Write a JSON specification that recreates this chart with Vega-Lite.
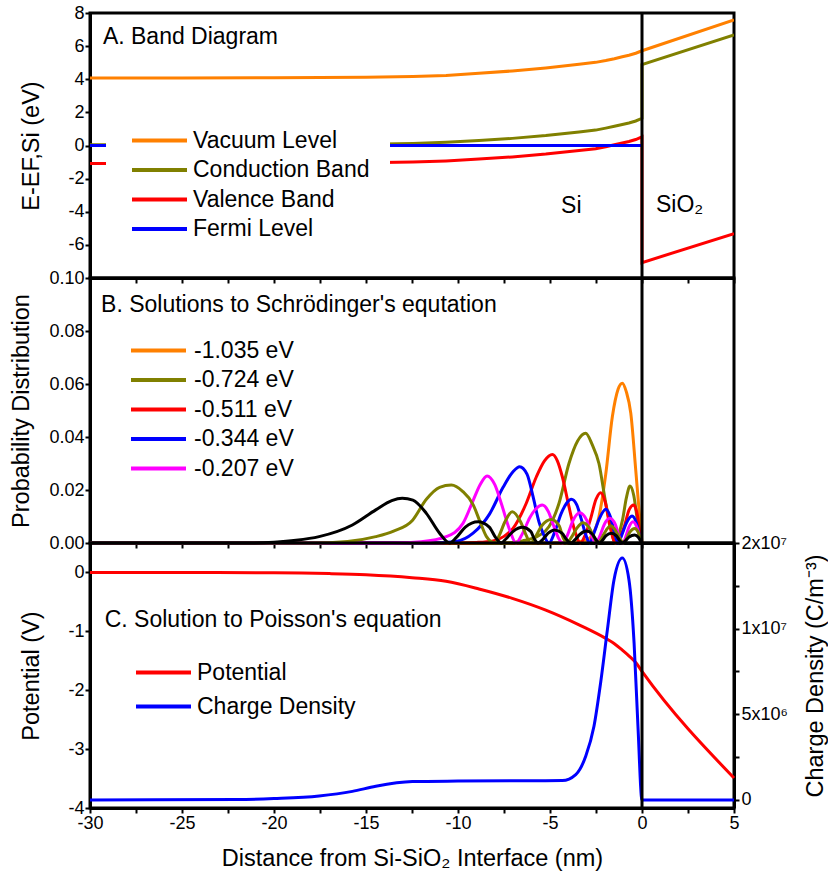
{
  "$schema": "https://vega.github.io/schema/vega-lite/v6.json",
  "background": "white",
  "padding": {"left": 7, "top": 2, "right": 0, "bottom": 0},
  "spacing": 0,
  "bounds": "flush",
  "resolve": {"scale": {"color": "independent"}, "legend": {"color": "independent"}},
  "config": {
    "font": "Liberation Sans",
    "view": {"stroke": "black", "strokeWidth": 3},
    "axis": {
      "domainColor": "black", "domainWidth": 3, "tickColor": "black", "tickWidth": 2, "tickSize": 5,
      "labelFontSize": 18, "labelColor": "black", "labelPadding": 1, "labelFlush": false, "labelOverlap": false, "labelBound": false,
      "titleFontSize": 23.5, "titleFontWeight": "normal", "titleColor": "black", "grid": false
    },
    "legend": {
      "labelFontSize": 23, "labelColor": "black", "symbolType": "M-1,0H9", "symbolSize": 121, "labelLimit": 400,
      "symbolStrokeWidth": 4, "labelOffset": 44, "orient": "none"
    }
  },
  "datasets": {
    "band": [
      {"x": -30, "E": 4.08, "series": "Vacuum Level", "o": 1},
      {"x": -25, "E": 4.08, "series": "Vacuum Level", "o": 2},
      {"x": -20, "E": 4.09, "series": "Vacuum Level", "o": 3},
      {"x": -17.5, "E": 4.1, "series": "Vacuum Level", "o": 4},
      {"x": -15, "E": 4.12, "series": "Vacuum Level", "o": 5},
      {"x": -12.45, "E": 4.16, "series": "Vacuum Level", "o": 6},
      {"x": -10.65, "E": 4.23, "series": "Vacuum Level", "o": 7},
      {"x": -8.86, "E": 4.36, "series": "Vacuum Level", "o": 8},
      {"x": -7.05, "E": 4.5, "series": "Vacuum Level", "o": 9},
      {"x": -5.23, "E": 4.68, "series": "Vacuum Level", "o": 10},
      {"x": -3.42, "E": 4.9, "series": "Vacuum Level", "o": 11},
      {"x": -2.52, "E": 5.02, "series": "Vacuum Level", "o": 12},
      {"x": -1.97, "E": 5.13, "series": "Vacuum Level", "o": 13},
      {"x": -1.5, "E": 5.24, "series": "Vacuum Level", "o": 14},
      {"x": -1.07, "E": 5.36, "series": "Vacuum Level", "o": 15},
      {"x": -0.71, "E": 5.45, "series": "Vacuum Level", "o": 16},
      {"x": -0.34, "E": 5.57, "series": "Vacuum Level", "o": 17},
      {"x": 0, "E": 5.72, "series": "Vacuum Level", "o": 18},
      {"x": 5, "E": 7.58, "series": "Vacuum Level", "o": 19},
      {"x": -30, "E": 0.04, "series": "Conduction Band", "o": 1},
      {"x": -25, "E": 0.04, "series": "Conduction Band", "o": 2},
      {"x": -20, "E": 0.05, "series": "Conduction Band", "o": 3},
      {"x": -17.5, "E": 0.06, "series": "Conduction Band", "o": 4},
      {"x": -15, "E": 0.08, "series": "Conduction Band", "o": 5},
      {"x": -12.45, "E": 0.12, "series": "Conduction Band", "o": 6},
      {"x": -10.65, "E": 0.19, "series": "Conduction Band", "o": 7},
      {"x": -8.86, "E": 0.3, "series": "Conduction Band", "o": 8},
      {"x": -7.05, "E": 0.43, "series": "Conduction Band", "o": 9},
      {"x": -5.23, "E": 0.6, "series": "Conduction Band", "o": 10},
      {"x": -3.42, "E": 0.82, "series": "Conduction Band", "o": 11},
      {"x": -2.52, "E": 0.93, "series": "Conduction Band", "o": 12},
      {"x": -1.97, "E": 1.05, "series": "Conduction Band", "o": 13},
      {"x": -1.5, "E": 1.16, "series": "Conduction Band", "o": 14},
      {"x": -1.07, "E": 1.27, "series": "Conduction Band", "o": 15},
      {"x": -0.71, "E": 1.36, "series": "Conduction Band", "o": 16},
      {"x": -0.34, "E": 1.48, "series": "Conduction Band", "o": 17},
      {"x": 0, "E": 1.64, "series": "Conduction Band", "o": 18},
      {"x": 0, "E": 4.89, "series": "Conduction Band", "o": 19},
      {"x": 5, "E": 6.67, "series": "Conduction Band", "o": 20},
      {"x": -30, "E": -1.08, "series": "Valence Band", "o": 1},
      {"x": -25, "E": -1.08, "series": "Valence Band", "o": 2},
      {"x": -20, "E": -1.07, "series": "Valence Band", "o": 3},
      {"x": -17.5, "E": -1.06, "series": "Valence Band", "o": 4},
      {"x": -15, "E": -1.04, "series": "Valence Band", "o": 5},
      {"x": -12.45, "E": -1.0, "series": "Valence Band", "o": 6},
      {"x": -10.65, "E": -0.93, "series": "Valence Band", "o": 7},
      {"x": -8.86, "E": -0.82, "series": "Valence Band", "o": 8},
      {"x": -7.05, "E": -0.69, "series": "Valence Band", "o": 9},
      {"x": -5.23, "E": -0.52, "series": "Valence Band", "o": 10},
      {"x": -3.42, "E": -0.3, "series": "Valence Band", "o": 11},
      {"x": -2.52, "E": -0.19, "series": "Valence Band", "o": 12},
      {"x": -1.97, "E": -0.07, "series": "Valence Band", "o": 13},
      {"x": -1.5, "E": 0.04, "series": "Valence Band", "o": 14},
      {"x": -1.07, "E": 0.15, "series": "Valence Band", "o": 15},
      {"x": -0.71, "E": 0.24, "series": "Valence Band", "o": 16},
      {"x": -0.34, "E": 0.36, "series": "Valence Band", "o": 17},
      {"x": 0, "E": 0.52, "series": "Valence Band", "o": 18},
      {"x": 0, "E": -7.07, "series": "Valence Band", "o": 19},
      {"x": 5, "E": -5.32, "series": "Valence Band", "o": 20},
      {"x": -30, "E": 0, "series": "Fermi Level", "o": 1},
      {"x": 0, "E": 0, "series": "Fermi Level", "o": 2}
    ],
    "textA": [
      {"x": -29.3, "E": 6.55, "t": "A. Band Diagram"},
      {"x": -4.4, "E": -3.64, "t": "Si"},
      {"x": 0.76, "E": -3.62, "t": "SiO₂"}
    ],
    "psi": [
      {"x": -30, "p": 0, "s": "-1.035 eV"}, {"x": -4.5, "p": 0, "s": "-1.035 eV"}, {"x": -3.6, "p": 0.0003, "s": "-1.035 eV"},
      {"x": -3.0, "p": 0.0012, "s": "-1.035 eV"}, {"x": -2.7, "p": 0.003, "s": "-1.035 eV"}, {"x": -2.34, "p": 0.0099, "s": "-1.035 eV"},
      {"x": -1.97, "p": 0.026, "s": "-1.035 eV"}, {"x": -1.61, "p": 0.0477, "s": "-1.035 eV"}, {"x": -1.3, "p": 0.058, "s": "-1.035 eV"},
      {"x": -1.07, "p": 0.0603, "s": "-1.035 eV"}, {"x": -0.85, "p": 0.057, "s": "-1.035 eV"}, {"x": -0.61, "p": 0.049, "s": "-1.035 eV"},
      {"x": -0.34, "p": 0.0275, "s": "-1.035 eV"}, {"x": -0.16, "p": 0.0125, "s": "-1.035 eV"}, {"x": 0, "p": 0, "s": "-1.035 eV"},

      {"x": -30, "p": 0, "s": "-0.724 eV"}, {"x": -7.5, "p": 0, "s": "-0.724 eV"}, {"x": -6.5, "p": 0.0008, "s": "-0.724 eV"},
      {"x": -5.6, "p": 0.0028, "s": "-0.724 eV"}, {"x": -5.05, "p": 0.0062, "s": "-0.724 eV"}, {"x": -4.51, "p": 0.015, "s": "-0.724 eV"},
      {"x": -3.97, "p": 0.03, "s": "-0.724 eV"}, {"x": -3.5, "p": 0.0385, "s": "-0.724 eV"}, {"x": -3.06, "p": 0.0414, "s": "-0.724 eV"},
      {"x": -2.7, "p": 0.037, "s": "-0.724 eV"}, {"x": -2.34, "p": 0.03, "s": "-0.724 eV"}, {"x": -1.97, "p": 0.015, "s": "-0.724 eV"},
      {"x": -1.7, "p": 0.006, "s": "-0.724 eV"}, {"x": -1.45, "p": 0, "s": "-0.724 eV"}, {"x": -1.25, "p": 0.0035, "s": "-0.724 eV"},
      {"x": -1.05, "p": 0.009, "s": "-0.724 eV"}, {"x": -0.85, "p": 0.017, "s": "-0.724 eV"}, {"x": -0.65, "p": 0.0215, "s": "-0.724 eV"},
      {"x": -0.45, "p": 0.018, "s": "-0.724 eV"}, {"x": -0.25, "p": 0.0085, "s": "-0.724 eV"}, {"x": -0.1, "p": 0.002, "s": "-0.724 eV"},
      {"x": 0, "p": 0, "s": "-0.724 eV"},

      {"x": -30, "p": 0, "s": "-0.511 eV"}, {"x": -10, "p": 0, "s": "-0.511 eV"}, {"x": -9, "p": 0.0002, "s": "-0.511 eV"},
      {"x": -8.1, "p": 0.0008, "s": "-0.511 eV"}, {"x": -7.5, "p": 0.0025, "s": "-0.511 eV"}, {"x": -7.01, "p": 0.0055, "s": "-0.511 eV"},
      {"x": -6.29, "p": 0.015, "s": "-0.511 eV"}, {"x": -5.74, "p": 0.025, "s": "-0.511 eV"}, {"x": -5.3, "p": 0.031, "s": "-0.511 eV"},
      {"x": -4.87, "p": 0.0334, "s": "-0.511 eV"}, {"x": -4.6, "p": 0.031, "s": "-0.511 eV"}, {"x": -4.33, "p": 0.025, "s": "-0.511 eV"},
      {"x": -3.97, "p": 0.0137, "s": "-0.511 eV"}, {"x": -3.65, "p": 0.0045, "s": "-0.511 eV"}, {"x": -3.35, "p": 0, "s": "-0.511 eV"},
      {"x": -3.1, "p": 0.0028, "s": "-0.511 eV"}, {"x": -2.8, "p": 0.009, "s": "-0.511 eV"}, {"x": -2.5, "p": 0.0165, "s": "-0.511 eV"},
      {"x": -2.25, "p": 0.019, "s": "-0.511 eV"}, {"x": -2.0, "p": 0.0155, "s": "-0.511 eV"}, {"x": -1.75, "p": 0.0065, "s": "-0.511 eV"},
      {"x": -1.43, "p": 0, "s": "-0.511 eV"}, {"x": -1.2, "p": 0.002, "s": "-0.511 eV"}, {"x": -0.95, "p": 0.0065, "s": "-0.511 eV"},
      {"x": -0.7, "p": 0.0125, "s": "-0.511 eV"}, {"x": -0.45, "p": 0.0143, "s": "-0.511 eV"}, {"x": -0.25, "p": 0.0105, "s": "-0.511 eV"},
      {"x": -0.1, "p": 0.003, "s": "-0.511 eV"}, {"x": 0, "p": 0, "s": "-0.511 eV"},

      {"x": -30, "p": 0, "s": "-0.344 eV"}, {"x": -11.5, "p": 0, "s": "-0.344 eV"}, {"x": -10.1, "p": 0.0006, "s": "-0.344 eV"},
      {"x": -9.18, "p": 0.0037, "s": "-0.344 eV"}, {"x": -8.28, "p": 0.011, "s": "-0.344 eV"}, {"x": -7.55, "p": 0.021, "s": "-0.344 eV"},
      {"x": -7.0, "p": 0.027, "s": "-0.344 eV"}, {"x": -6.65, "p": 0.0288, "s": "-0.344 eV"}, {"x": -6.25, "p": 0.026, "s": "-0.344 eV"},
      {"x": -5.92, "p": 0.0175, "s": "-0.344 eV"}, {"x": -5.6, "p": 0.008, "s": "-0.344 eV"}, {"x": -5.38, "p": 0.0037, "s": "-0.344 eV"},
      {"x": -5.05, "p": 0, "s": "-0.344 eV"}, {"x": -4.75, "p": 0.004, "s": "-0.344 eV"}, {"x": -4.4, "p": 0.011, "s": "-0.344 eV"},
      {"x": -4.1, "p": 0.015, "s": "-0.344 eV"}, {"x": -3.84, "p": 0.0165, "s": "-0.344 eV"}, {"x": -3.55, "p": 0.0145, "s": "-0.344 eV"},
      {"x": -3.3, "p": 0.009, "s": "-0.344 eV"}, {"x": -3.05, "p": 0.003, "s": "-0.344 eV"}, {"x": -2.85, "p": 0, "s": "-0.344 eV"},
      {"x": -2.6, "p": 0.004, "s": "-0.344 eV"}, {"x": -2.3, "p": 0.0095, "s": "-0.344 eV"}, {"x": -1.97, "p": 0.0127, "s": "-0.344 eV"},
      {"x": -1.7, "p": 0.0095, "s": "-0.344 eV"}, {"x": -1.5, "p": 0.004, "s": "-0.344 eV"}, {"x": -1.3, "p": 0, "s": "-0.344 eV"},
      {"x": -1.1, "p": 0.003, "s": "-0.344 eV"}, {"x": -0.85, "p": 0.0075, "s": "-0.344 eV"}, {"x": -0.54, "p": 0.0102, "s": "-0.344 eV"},
      {"x": -0.3, "p": 0.0075, "s": "-0.344 eV"}, {"x": -0.12, "p": 0.0025, "s": "-0.344 eV"}, {"x": 0, "p": 0, "s": "-0.344 eV"},

      {"x": -30, "p": 0, "s": "-0.207 eV"}, {"x": -13.5, "p": 0, "s": "-0.207 eV"}, {"x": -12, "p": 0.0005, "s": "-0.207 eV"},
      {"x": -10.64, "p": 0.0024, "s": "-0.207 eV"}, {"x": -9.73, "p": 0.0074, "s": "-0.207 eV"}, {"x": -9.18, "p": 0.016, "s": "-0.207 eV"},
      {"x": -8.8, "p": 0.022, "s": "-0.207 eV"}, {"x": -8.42, "p": 0.0253, "s": "-0.207 eV"}, {"x": -8.0, "p": 0.022, "s": "-0.207 eV"},
      {"x": -7.65, "p": 0.015, "s": "-0.207 eV"}, {"x": -7.19, "p": 0.0049, "s": "-0.207 eV"}, {"x": -6.85, "p": 0, "s": "-0.207 eV"},
      {"x": -6.5, "p": 0.0035, "s": "-0.207 eV"}, {"x": -6.1, "p": 0.0095, "s": "-0.207 eV"}, {"x": -5.75, "p": 0.013, "s": "-0.207 eV"},
      {"x": -5.42, "p": 0.0143, "s": "-0.207 eV"}, {"x": -5.1, "p": 0.012, "s": "-0.207 eV"}, {"x": -4.8, "p": 0.0065, "s": "-0.207 eV"},
      {"x": -4.55, "p": 0.002, "s": "-0.207 eV"}, {"x": -4.3, "p": 0, "s": "-0.207 eV"}, {"x": -4.05, "p": 0.003, "s": "-0.207 eV"},
      {"x": -3.75, "p": 0.0085, "s": "-0.207 eV"}, {"x": -3.39, "p": 0.0114, "s": "-0.207 eV"}, {"x": -3.0, "p": 0.0085, "s": "-0.207 eV"},
      {"x": -2.75, "p": 0.003, "s": "-0.207 eV"}, {"x": -2.5, "p": 0, "s": "-0.207 eV"}, {"x": -2.3, "p": 0.0025, "s": "-0.207 eV"},
      {"x": -2.05, "p": 0.007, "s": "-0.207 eV"}, {"x": -1.76, "p": 0.0093, "s": "-0.207 eV"}, {"x": -1.45, "p": 0.007, "s": "-0.207 eV"},
      {"x": -1.25, "p": 0.0025, "s": "-0.207 eV"}, {"x": -1.05, "p": 0, "s": "-0.207 eV"}, {"x": -0.9, "p": 0.002, "s": "-0.207 eV"},
      {"x": -0.72, "p": 0.0058, "s": "-0.207 eV"}, {"x": -0.49, "p": 0.008, "s": "-0.207 eV"}, {"x": -0.27, "p": 0.0058, "s": "-0.207 eV"},
      {"x": -0.1, "p": 0.0018, "s": "-0.207 eV"}, {"x": 0, "p": 0, "s": "-0.207 eV"},

      {"x": -30, "p": 0, "s": "-0.114 eV"}, {"x": -18, "p": 0, "s": "-0.114 eV"}, {"x": -16, "p": 0.0006, "s": "-0.114 eV"},
      {"x": -14.47, "p": 0.0024, "s": "-0.114 eV"}, {"x": -13.5, "p": 0.0045, "s": "-0.114 eV"}, {"x": -12.48, "p": 0.0085, "s": "-0.114 eV"},
      {"x": -11.72, "p": 0.0165, "s": "-0.114 eV"}, {"x": -11.0, "p": 0.021, "s": "-0.114 eV"}, {"x": -10.36, "p": 0.0219, "s": "-0.114 eV"},
      {"x": -9.75, "p": 0.0195, "s": "-0.114 eV"}, {"x": -9.18, "p": 0.0145, "s": "-0.114 eV"}, {"x": -8.8, "p": 0.008, "s": "-0.114 eV"},
      {"x": -8.46, "p": 0.0025, "s": "-0.114 eV"}, {"x": -8.0, "p": 0, "s": "-0.114 eV"}, {"x": -7.75, "p": 0.003, "s": "-0.114 eV"},
      {"x": -7.45, "p": 0.008, "s": "-0.114 eV"}, {"x": -7.05, "p": 0.0118, "s": "-0.114 eV"}, {"x": -6.6, "p": 0.008, "s": "-0.114 eV"},
      {"x": -6.3, "p": 0.003, "s": "-0.114 eV"}, {"x": -6.05, "p": 0, "s": "-0.114 eV"}, {"x": -5.8, "p": 0.0022, "s": "-0.114 eV"},
      {"x": -5.45, "p": 0.0065, "s": "-0.114 eV"}, {"x": -4.93, "p": 0.0089, "s": "-0.114 eV"}, {"x": -4.5, "p": 0.0065, "s": "-0.114 eV"},
      {"x": -4.3, "p": 0.0022, "s": "-0.114 eV"}, {"x": -4.1, "p": 0, "s": "-0.114 eV"}, {"x": -3.85, "p": 0.002, "s": "-0.114 eV"},
      {"x": -3.55, "p": 0.0055, "s": "-0.114 eV"}, {"x": -3.21, "p": 0.0076, "s": "-0.114 eV"}, {"x": -2.85, "p": 0.0055, "s": "-0.114 eV"},
      {"x": -2.6, "p": 0.002, "s": "-0.114 eV"}, {"x": -2.4, "p": 0, "s": "-0.114 eV"}, {"x": -2.2, "p": 0.0018, "s": "-0.114 eV"},
      {"x": -1.95, "p": 0.0048, "s": "-0.114 eV"}, {"x": -1.7, "p": 0.0065, "s": "-0.114 eV"}, {"x": -1.45, "p": 0.0048, "s": "-0.114 eV"},
      {"x": -1.2, "p": 0.0018, "s": "-0.114 eV"}, {"x": -1.0, "p": 0, "s": "-0.114 eV"}, {"x": -0.85, "p": 0.0015, "s": "-0.114 eV"},
      {"x": -0.65, "p": 0.0042, "s": "-0.114 eV"}, {"x": -0.4, "p": 0.0055, "s": "-0.114 eV"}, {"x": -0.2, "p": 0.004, "s": "-0.114 eV"},
      {"x": -0.07, "p": 0.0012, "s": "-0.114 eV"}, {"x": 0, "p": 0, "s": "-0.114 eV"},

      {"x": -30, "p": 0, "s": "-0.046 eV"}, {"x": -21.5, "p": 0, "s": "-0.046 eV"}, {"x": -20, "p": 0.0003, "s": "-0.046 eV"},
      {"x": -18.8, "p": 0.001, "s": "-0.046 eV"}, {"x": -17.55, "p": 0.0024, "s": "-0.046 eV"}, {"x": -15.74, "p": 0.0068, "s": "-0.046 eV"},
      {"x": -14.47, "p": 0.0125, "s": "-0.046 eV"}, {"x": -13.6, "p": 0.016, "s": "-0.046 eV"}, {"x": -13.03, "p": 0.0169, "s": "-0.046 eV"},
      {"x": -12.45, "p": 0.0162, "s": "-0.046 eV"}, {"x": -11.72, "p": 0.0112, "s": "-0.046 eV"}, {"x": -11.0, "p": 0.0037, "s": "-0.046 eV"},
      {"x": -10.45, "p": 0, "s": "-0.046 eV"}, {"x": -10.1, "p": 0.002, "s": "-0.046 eV"}, {"x": -9.6, "p": 0.006, "s": "-0.046 eV"},
      {"x": -8.91, "p": 0.008, "s": "-0.046 eV"}, {"x": -8.3, "p": 0.006, "s": "-0.046 eV"}, {"x": -7.95, "p": 0.002, "s": "-0.046 eV"},
      {"x": -7.65, "p": 0, "s": "-0.046 eV"}, {"x": -7.4, "p": 0.0015, "s": "-0.046 eV"}, {"x": -7.0, "p": 0.0044, "s": "-0.046 eV"},
      {"x": -6.5, "p": 0.0059, "s": "-0.046 eV"}, {"x": -6.05, "p": 0.0044, "s": "-0.046 eV"}, {"x": -5.85, "p": 0.0015, "s": "-0.046 eV"},
      {"x": -5.65, "p": 0, "s": "-0.046 eV"}, {"x": -5.4, "p": 0.0013, "s": "-0.046 eV"}, {"x": -5.1, "p": 0.0037, "s": "-0.046 eV"},
      {"x": -4.75, "p": 0.0049, "s": "-0.046 eV"}, {"x": -4.35, "p": 0.0037, "s": "-0.046 eV"}, {"x": -4.1, "p": 0.0013, "s": "-0.046 eV"},
      {"x": -3.86, "p": 0, "s": "-0.046 eV"}, {"x": -3.65, "p": 0.0012, "s": "-0.046 eV"}, {"x": -3.35, "p": 0.0034, "s": "-0.046 eV"},
      {"x": -3.03, "p": 0.0045, "s": "-0.046 eV"}, {"x": -2.7, "p": 0.0034, "s": "-0.046 eV"}, {"x": -2.5, "p": 0.0012, "s": "-0.046 eV"},
      {"x": -2.3, "p": 0, "s": "-0.046 eV"}, {"x": -2.15, "p": 0.001, "s": "-0.046 eV"}, {"x": -1.95, "p": 0.0028, "s": "-0.046 eV"},
      {"x": -1.67, "p": 0.0037, "s": "-0.046 eV"}, {"x": -1.4, "p": 0.0028, "s": "-0.046 eV"}, {"x": -1.22, "p": 0.001, "s": "-0.046 eV"},
      {"x": -1.07, "p": 0, "s": "-0.046 eV"}, {"x": -0.9, "p": 0.0008, "s": "-0.046 eV"}, {"x": -0.7, "p": 0.0023, "s": "-0.046 eV"},
      {"x": -0.4, "p": 0.003, "s": "-0.046 eV"}, {"x": -0.2, "p": 0.0022, "s": "-0.046 eV"}, {"x": -0.07, "p": 0.0007, "s": "-0.046 eV"},
      {"x": 0, "p": 0, "s": "-0.046 eV"}
    ],
    "pot": [
      {"x": -30, "V": 0, "series": "Potential"}, {"x": -25, "V": 0, "series": "Potential"},
      {"x": -20, "V": -0.005, "series": "Potential"}, {"x": -17, "V": -0.02, "series": "Potential"},
      {"x": -15, "V": -0.04, "series": "Potential"}, {"x": -12.5, "V": -0.09, "series": "Potential"},
      {"x": -10.65, "V": -0.15, "series": "Potential"}, {"x": -8.86, "V": -0.28, "series": "Potential"},
      {"x": -7.05, "V": -0.44, "series": "Potential"}, {"x": -5.23, "V": -0.64, "series": "Potential"},
      {"x": -3.42, "V": -0.89, "series": "Potential"}, {"x": -1.97, "V": -1.12, "series": "Potential"},
      {"x": -1.5, "V": -1.21, "series": "Potential"}, {"x": -1.07, "V": -1.32, "series": "Potential"},
      {"x": -0.7, "V": -1.42, "series": "Potential"}, {"x": -0.34, "V": -1.53, "series": "Potential"},
      {"x": 0, "V": -1.68, "series": "Potential"}, {"x": 5, "V": -3.49, "series": "Potential"}
    ],
    "rho": [
      {"x": -30, "rho": 0, "series": "Charge Density"}, {"x": -22, "rho": 20000, "series": "Charge Density"},
      {"x": -20, "rho": 80000, "series": "Charge Density"}, {"x": -17.55, "rho": 230000, "series": "Charge Density"},
      {"x": -15.74, "rho": 500000, "series": "Charge Density"}, {"x": -14.47, "rho": 800000, "series": "Charge Density"},
      {"x": -12.48, "rho": 1070000, "series": "Charge Density"}, {"x": -10, "rho": 1100000, "series": "Charge Density"},
      {"x": -6, "rho": 1120000, "series": "Charge Density"}, {"x": -4.33, "rho": 1130000, "series": "Charge Density"},
      {"x": -3.6, "rho": 1480000, "series": "Charge Density"}, {"x": -3.06, "rho": 2550000, "series": "Charge Density"},
      {"x": -2.61, "rho": 4300000, "series": "Charge Density"}, {"x": -2.25, "rho": 6830000, "series": "Charge Density"},
      {"x": -1.88, "rho": 9940000, "series": "Charge Density"}, {"x": -1.52, "rho": 12860000, "series": "Charge Density"},
      {"x": -1.07, "rho": 14120000, "series": "Charge Density"}, {"x": -0.71, "rho": 12860000, "series": "Charge Density"},
      {"x": -0.43, "rho": 9160000, "series": "Charge Density"}, {"x": -0.22, "rho": 4300000, "series": "Charge Density"},
      {"x": 0, "rho": 0, "series": "Charge Density"}, {"x": 5, "rho": 0, "series": "Charge Density"}
    ]
  },
  "vconcat": [
    {
      "width": 644, "height": 265,
      "resolve": {"axis": {"y": "independent"}},
      "layer": [
        {
          "data": {"name": "band"},
          "mark": {"type": "line", "strokeWidth": 3, "clip": true},
          "encoding": {
            "x": {"field": "x", "type": "quantitative", "scale": {"domain": [-30, 5], "nice": false, "zero": false},
                  "axis": {"labels": false, "title": null, "values": [-30, -27.5, -25, -22.5, -20, -17.5, -15, -12.5, -10, -7.5, -5, -2.5, 0, 2.5, 5]}},
            "y": {"field": "E", "type": "quantitative", "scale": {"domain": [-8, 8], "nice": false, "zero": false},
                  "axis": {"orient": "left", "values": [-6, -2, 2, 6], "labelOverlap": false,
                           "labelExpr": "datum.value < 0 ? '-' + format(-datum.value, 'd') : format(datum.value, 'd')",
                           "title": "E-EF,Si (eV)", "titleX": -47, "titleY": 132.5}},
            "color": {"field": "series", "type": "nominal",
                      "scale": {"domain": ["Vacuum Level", "Conduction Band", "Valence Band", "Fermi Level"], "range": ["#FF8000", "#808000", "#FF0000", "#0000FF"]},
                      "legend": {"title": null, "orient": "none", "legendX": 16, "legendY": 96, "fillColor": "white", "padding": 20, "rowPadding": 5.5, "labelOffset": 44}},
            "order": {"field": "o", "type": "quantitative"}
          }
        },
        {
          "data": {"values": [{"x": 0}]},
          "mark": {"type": "rule", "strokeWidth": 3, "color": "black"},
          "encoding": {"x": {"field": "x", "type": "quantitative"}}
        },
        {
          "data": {"name": "textA"},
          "mark": {"type": "text", "baseline": "middle", "align": "left", "fontSize": 23, "color": "black"},
          "encoding": {
            "x": {"field": "x", "type": "quantitative"},
            "y": {"field": "E", "type": "quantitative",
                  "axis": {"orient": "left", "values": [-4, 0, 4, 8], "labelOverlap": false, "title": null,
                           "labelExpr": "datum.value < 0 ? '-' + format(-datum.value, 'd') : format(datum.value, 'd')"}},
            "text": {"field": "t"}
          }
        }
      ]
    },
    {
      "width": 644, "height": 265,
      "layer": [
        {
          "data": {"name": "psi"},
          "mark": {"type": "line", "strokeWidth": 3, "interpolate": "monotone"},
          "encoding": {
            "x": {"field": "x", "type": "quantitative", "scale": {"domain": [-30, 5], "nice": false, "zero": false},
                  "axis": {"labels": false, "title": null, "values": [-30, -27.5, -25, -22.5, -20, -17.5, -15, -12.5, -10, -7.5, -5, -2.5, 0, 2.5, 5]}},
            "y": {"field": "p", "type": "quantitative", "scale": {"domain": [0, 0.1], "nice": false},
                  "axis": {"values": [0, 0.01, 0.02, 0.03, 0.04, 0.05, 0.06, 0.07, 0.08, 0.09, 0.1], "labelOverlap": false,
                           "labelExpr": "round(datum.value * 100) % 2 != 0 ? '' : format(datum.value, '.2f')",
                           "title": "Probability Distribution", "titleX": -57, "titleY": 132.5}},
            "color": {"field": "s", "type": "nominal",
                      "scale": {"domain": ["-1.035 eV", "-0.724 eV", "-0.511 eV", "-0.344 eV", "-0.207 eV", "-0.114 eV", "-0.046 eV"],
                                "range": ["#FF8000", "#808000", "#FF0000", "#0000FF", "#FF00FF", "#808000", "#000000"]},
                      "legend": {"title": null, "orient": "none", "legendX": 35, "legendY": 61, "padding": 0, "rowPadding": 5.5, "labelOffset": 46,
                                 "values": ["-1.035 eV", "-0.724 eV", "-0.511 eV", "-0.344 eV", "-0.207 eV"]}}
          }
        },
        {
          "data": {"values": [{"x": 0}]},
          "mark": {"type": "rule", "strokeWidth": 3, "color": "black"},
          "encoding": {"x": {"field": "x", "type": "quantitative"}}
        },
        {
          "data": {"values": [{"x": -29.4, "p": 0.0898, "t": "B. Solutions to Schrödinger's equtation"}]},
          "mark": {"type": "text", "baseline": "middle", "align": "left", "fontSize": 23, "color": "black"},
          "encoding": {
            "x": {"field": "x", "type": "quantitative"},
            "y": {"field": "p", "type": "quantitative"},
            "text": {"field": "t"}
          }
        }
      ]
    },
    {
      "width": 644, "height": 265,
      "resolve": {"scale": {"y": "independent"}},
      "layer": [
        {
          "layer": [
            {
              "data": {"name": "pot"},
              "mark": {"type": "line", "strokeWidth": 3, "interpolate": "monotone"},
              "encoding": {
                "x": {"field": "x", "type": "quantitative", "scale": {"domain": [-30, 5], "nice": false, "zero": false},
                      "axis": {"values": [-30, -27.5, -25, -22.5, -20, -17.5, -15, -12.5, -10, -7.5, -5, -2.5, 0, 2.5, 5], "labelOverlap": false,
                               "labelExpr": "datum.value % 5 != 0 ? '' : datum.value < 0 ? '-' + format(-datum.value, 'd') : format(datum.value, 'd')",
                               "title": "Distance from Si-SiO₂ Interface (nm)", "titlePadding": 14}},
                "y": {"field": "V", "type": "quantitative", "scale": {"domain": [-4, 0.5], "nice": false, "zero": false},
                      "axis": {"values": [-4, -3.5, -3, -2.5, -2, -1.5, -1, -0.5, 0], "labelOverlap": false,
                               "labelExpr": "datum.value % 1 != 0 ? '' : datum.value < 0 ? '-' + format(-datum.value, 'd') : format(datum.value, 'd')",
                               "title": "Potential (V)", "titleX": -47, "titleY": 132.5}},
                "color": {"field": "series", "type": "nominal",
                          "scale": {"domain": ["Potential", "Charge Density"], "range": ["#FF0000", "#0000FF"]},
                          "legend": {"title": null, "orient": "none", "legendX": 40, "legendY": 118, "padding": 0, "rowPadding": 10, "labelOffset": 44}}
              }
            },
            {
              "data": {"values": [{"x": -29.2, "V": -0.81, "t": "C. Solution to Poisson's equation"}]},
              "mark": {"type": "text", "baseline": "middle", "align": "left", "fontSize": 23, "color": "black"},
              "encoding": {
                "x": {"field": "x", "type": "quantitative"},
                "y": {"field": "V", "type": "quantitative"},
                "text": {"field": "t"}
              }
            }
          ]
        },
        {
          "data": {"name": "rho"},
          "mark": {"type": "line", "strokeWidth": 3, "interpolate": "monotone"},
          "encoding": {
            "x": {"field": "x", "type": "quantitative"},
            "y": {"field": "rho", "type": "quantitative", "scale": {"domain": [-470000, 15000000], "nice": false, "zero": false},
                  "axis": {"orient": "right", "values": [0, 2500000, 5000000, 7500000, 10000000, 12500000, 15000000], "labelOverlap": false,
                           "labelExpr": "datum.value == 0 ? '0' : datum.value == 5000000 ? '5x10⁶' : datum.value == 10000000 ? '1x10⁷' : datum.value == 15000000 ? '2x10⁷' : ''",
                           "labelPadding": 2, "title": "Charge Density (C/m⁻³)", "titleAngle": 270, "titleBaseline": "bottom", "titleX": 93, "titleY": 132.5}},
            "color": {"field": "series", "type": "nominal"}
          }
        },
        {
          "data": {"values": [{"x": 0}]},
          "mark": {"type": "rule", "strokeWidth": 3, "color": "black"},
          "encoding": {"x": {"field": "x", "type": "quantitative"}}
        }
      ]
    }
  ]
}
